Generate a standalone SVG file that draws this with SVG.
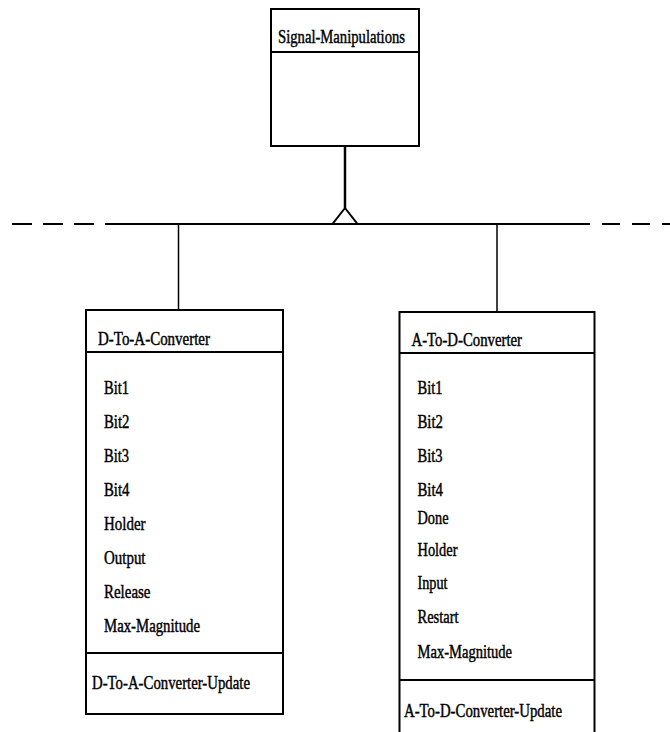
<svg xmlns="http://www.w3.org/2000/svg" width="670" height="732" viewBox="0 0 670 732">
<style>
  .box { fill: #fff; stroke: #000; stroke-width: 2; }
  .div { stroke: #000; stroke-width: 2; }
  .ln { stroke: #000; stroke-width: 2; fill: none; }
  text { font-family: "Liberation Serif", "Times New Roman", serif; font-size: 19px; fill: #000; stroke: #000; stroke-width: 0.45; }
</style>
<rect width="670" height="732" fill="#fff"/>
<g id="connectors">
  <line class="ln" x1="345" y1="146" x2="345" y2="208" style="stroke-width:2.5"/>
  <polygon points="345,208 332.5,224 357.5,224" fill="#fff" stroke="#000" stroke-width="2"/>
  <line class="ln" x1="12" y1="224" x2="105" y2="224" stroke-dasharray="20 11"/>
  <line class="ln" x1="105" y1="224" x2="590" y2="224"/>
  <line class="ln" x1="602" y1="224" x2="670" y2="224" stroke-dasharray="18 12"/>
  <line class="ln" x1="178.5" y1="224" x2="178.5" y2="310" style="stroke-width:1.5"/>
  <line class="ln" x1="497" y1="224" x2="497" y2="312" style="stroke-width:1.5"/>
</g>
<g id="signal-manipulations">
  <rect class="box" x="271" y="9" width="148" height="137"/>
  <line class="div" x1="271" y1="52" x2="419" y2="52"/>
  <text x="278" y="43" textLength="127" lengthAdjust="spacingAndGlyphs">Signal-Manipulations</text>
</g>
<g id="d-to-a-converter">
  <rect class="box" x="86" y="310" width="197" height="404"/>
  <line class="div" x1="86" y1="352" x2="283" y2="352"/>
  <line class="div" x1="86" y1="653" x2="283" y2="653"/>
  <text x="98" y="345" textLength="112" lengthAdjust="spacingAndGlyphs">D-To-A-Converter</text>
  <text x="104" y="393.5" textLength="25" lengthAdjust="spacingAndGlyphs">Bit1</text>
  <text x="104" y="427.5" textLength="25.5" lengthAdjust="spacingAndGlyphs">Bit2</text>
  <text x="104" y="461.5" textLength="25" lengthAdjust="spacingAndGlyphs">Bit3</text>
  <text x="104" y="495.5" textLength="25.5" lengthAdjust="spacingAndGlyphs">Bit4</text>
  <text x="104" y="529.5" textLength="41.5" lengthAdjust="spacingAndGlyphs">Holder</text>
  <text x="104" y="563.5" textLength="41.5" lengthAdjust="spacingAndGlyphs">Output</text>
  <text x="104" y="597.5" textLength="46.5" lengthAdjust="spacingAndGlyphs">Release</text>
  <text x="104" y="631.5" textLength="96" lengthAdjust="spacingAndGlyphs">Max-Magnitude</text>
  <text x="92" y="688.5" textLength="158" lengthAdjust="spacingAndGlyphs">D-To-A-Converter-Update</text>
</g>
<g id="a-to-d-converter">
  <rect class="box" x="399.5" y="312" width="195" height="430"/>
  <line class="div" x1="399.5" y1="353" x2="594.5" y2="353"/>
  <line class="div" x1="399.5" y1="680" x2="594.5" y2="680"/>
  <text x="411.5" y="345.5" textLength="110.5" lengthAdjust="spacingAndGlyphs">A-To-D-Converter</text>
  <text x="417.5" y="393.5" textLength="25" lengthAdjust="spacingAndGlyphs">Bit1</text>
  <text x="417.5" y="427.5" textLength="25.5" lengthAdjust="spacingAndGlyphs">Bit2</text>
  <text x="417.5" y="461.5" textLength="25" lengthAdjust="spacingAndGlyphs">Bit3</text>
  <text x="417.5" y="495.5" textLength="25.5" lengthAdjust="spacingAndGlyphs">Bit4</text>
  <text x="417.5" y="524" textLength="31" lengthAdjust="spacingAndGlyphs">Done</text>
  <text x="417.5" y="555.5" textLength="40" lengthAdjust="spacingAndGlyphs">Holder</text>
  <text x="417.5" y="589" textLength="30" lengthAdjust="spacingAndGlyphs">Input</text>
  <text x="417.5" y="623" textLength="41" lengthAdjust="spacingAndGlyphs">Restart</text>
  <text x="417.5" y="658" textLength="94.5" lengthAdjust="spacingAndGlyphs">Max-Magnitude</text>
  <text x="404" y="716.5" textLength="158" lengthAdjust="spacingAndGlyphs">A-To-D-Converter-Update</text>
</g>
</svg>
